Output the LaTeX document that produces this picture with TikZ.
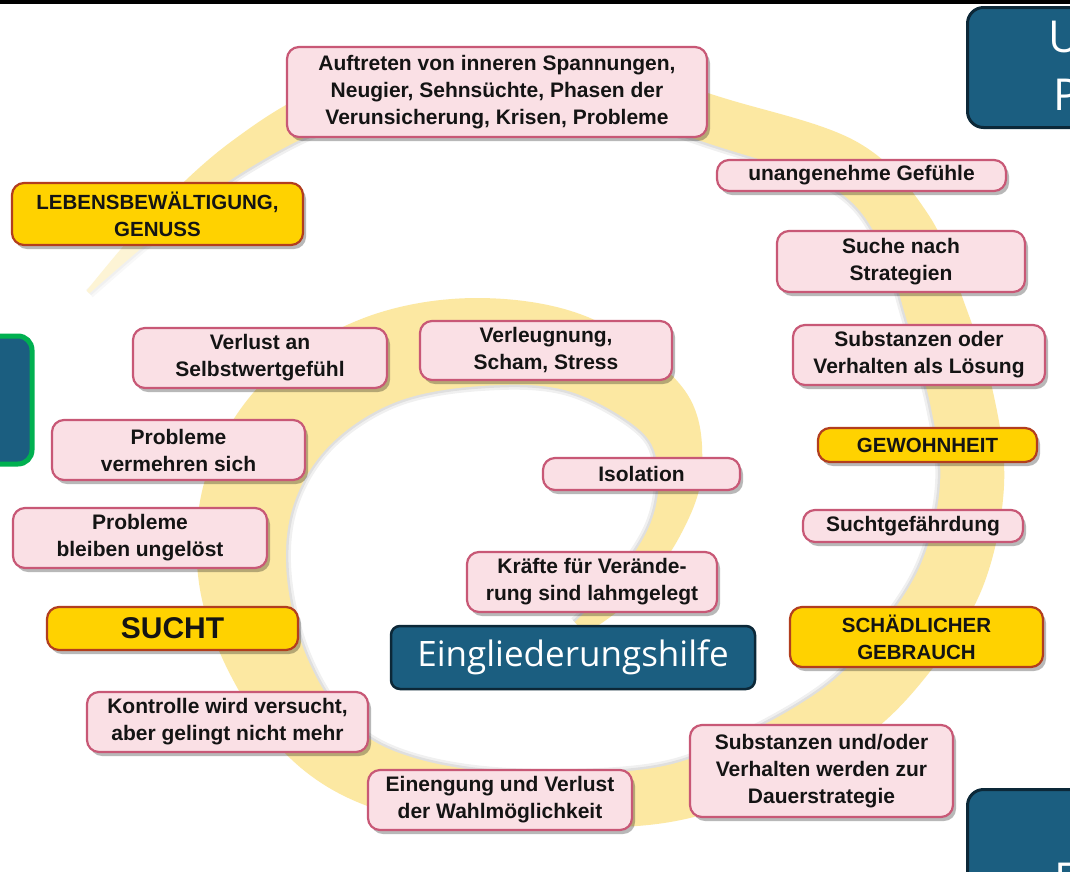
\documentclass[tikz,border=0pt]{standalone}
\usepackage{fontspec}
\setmainfont{Liberation Sans}
\newfontfamily\blfont{Open Sans}
\usetikzlibrary{calc,shadows}
\definecolor{pinkfill}{RGB}{250,224,229}
\definecolor{pinkedge}{RGB}{200,88,118}
\definecolor{yelfill}{RGB}{255,210,0}
\definecolor{yeledge}{RGB}{178,62,30}
\definecolor{bandc}{RGB}{252,232,162}
\definecolor{bluefill}{RGB}{27,94,128}
\definecolor{blueedge}{RGB}{12,40,56}
\definecolor{greenedge}{RGB}{0,176,80}
\definecolor{textc}{RGB}{20,20,20}
\tikzset{
  boxbase/.style={rounded corners=12pt, align=center, inner sep=0pt, line width=2.2pt,
    drop shadow={shadow xshift=3pt, shadow yshift=-4pt, opacity=0.28, fill=black}},
  pinkbox/.style={boxbase, draw=pinkedge, fill=pinkfill, text=textc,
    font=\bfseries\fontsize{21}{27}\selectfont},
  yelbox/.style={boxbase, draw=yeledge, fill=yelfill, text=textc,
    font=\bfseries\fontsize{20.5}{27}\selectfont},
  bluebox/.style={draw=blueedge, fill=bluefill, text=white, line width=2.5pt,
    rounded corners=9pt, font=\blfont\fontsize{35}{40}\selectfont, inner sep=0pt},
  bigblue/.style={draw=blueedge, fill=bluefill, line width=3pt, rounded corners=16pt,
    minimum width=200pt, minimum height=120pt, anchor=north west, inner sep=0pt},
  bigletter/.style={font=\blfont\fontsize{44}{50}\selectfont, text=white, anchor=base west, inner sep=0pt},
  sz/.style 2 args={minimum width=#1pt, minimum height=#2pt},
}
\begin{document}
\begin{tikzpicture}[x=1pt,y=-1pt]
\useasboundingbox (0,0) rectangle (1070,871);
\clip (0,0) rectangle (1070,871);
\fill[white] (0,0) rectangle (1070,871);

% spiral centre line with half widths
\foreach \i/\x/\y/\w in {0/88/292/2, 1/160/220/10, 2/240/155/16, 3/330/106/20,
  4/450/78/22, 5/600/88/23, 6/720/122/24, 7/845/165/26, 8/905/230/28,
  9/935/310/30, 10/962/400/32, 11/972/485/32, 12/952/575/33, 13/905/650/33,
  14/845/712/32, 15/750/765/30, 16/655/796/28, 17/510/800/27, 18/400/785/30,
  19/325/745/33, 20/272/672/38, 21/243/580/44, 22/250/490/46, 23/298/412/46,
  24/380/360/45, 25/480/342/44, 26/580/355/38, 27/662/410/30, 28/680/470/22,
  29/665/530/16, 30/625/588/13, 31/580/628/8}{
  \coordinate (c\i) at (\x,\y);
  \expandafter\xdef\csname bw\i\endcsname{\w}
}
\foreach \i in {0,...,31}{
  \pgfmathtruncatemacro\ipx{max(\i-1,0)}
  \pgfmathtruncatemacro\inx{min(\i+1,31)}
  \edef\ww{\csname bw\i\endcsname}
  \coordinate (ta) at ($(c\ipx)!\ww pt!90:(c\inx)$);
  \coordinate (tb) at ($(c\ipx)!\ww pt!-90:(c\inx)$);
  \coordinate (o\i) at ($(c\i)+(ta)-(c\ipx)$);
  \coordinate (i\i) at ($(c\i)+(tb)-(c\ipx)$);
}
% soft shadow on the inner edge
\draw[black, opacity=0.06, line width=10pt] plot[smooth, tension=0.6] coordinates {(i0) (i1) (i2) (i3) (i4) (i5) (i6) (i7) (i8) (i9) (i10) (i11) (i12) (i13) (i14) (i15) (i16) (i17) (i18) (i19) (i20) (i21) (i22) (i23) (i24) (i25) (i26) (i27) (i28) (i29) (i30) (i31)};
\draw[black, opacity=0.07, line width=5pt] plot[smooth, tension=0.6] coordinates {(i0) (i1) (i2) (i3) (i4) (i5) (i6) (i7) (i8) (i9) (i10) (i11) (i12) (i13) (i14) (i15) (i16) (i17) (i18) (i19) (i20) (i21) (i22) (i23) (i24) (i25) (i26) (i27) (i28) (i29) (i30) (i31)};
% the band
\fill[bandc] plot[smooth, tension=0.6] coordinates {(o0) (o1) (o2) (o3) (o4) (o5) (o6) (o7) (o8) (o9) (o10) (o11) (o12) (o13) (o14) (o15) (o16) (o17) (o18) (o19) (o20) (o21) (o22) (o23) (o24) (o25) (o26) (o27) (o28) (o29) (o30) (o31)}
  -- plot[smooth, tension=0.6] coordinates {(i31) (i30) (i29) (i28) (i27) (i26) (i25) (i24) (i23) (i22) (i21) (i20) (i19) (i18) (i17) (i16) (i15) (i14) (i13) (i12) (i11) (i10) (i9) (i8) (i7) (i6) (i5) (i4) (i3) (i2) (i1) (i0)} -- cycle;
% faded tail
\fill[white, opacity=0.55] (60,246) rectangle (175,320);

% black top edge
\fill[black] (0,0) rectangle (1070,4);

% blue boxes at the edges
\node[bigblue] (ubox) at (966,6) {};
\node[bigletter] (ulet) at (1048,52) {U};
\node[bigletter] (plet) at (1053,110) {P};
\node[bigblue] (ebox) at (966,788) {};
\node[bigletter] (elet) at (1054,894) {E};
\draw[greenedge, fill=bluefill, line width=5pt, rounded corners=14pt] (-40,336) rectangle (32,464);

% boxes
\node[pinkbox, sz={420}{90}] (auf) at (497,92) {Auftreten von inneren Spannungen,\\Neugier, Sehnsüchte, Phasen der\\Verunsicherung, Krisen, Probleme};
\node[pinkbox, sz={289}{31}] (unang) at (861.5,175.5) {unangenehme Gefühle};
\node[pinkbox, sz={248}{61}] (suche) at (901,261.5) {Suche nach\\Strategien};
\node[pinkbox, sz={252}{60}] (subst) at (919,355) {Substanzen oder\\Verhalten als Lösung};
\node[yelbox, sz={219}{34}] (gewohn) at (927.5,445) {GEWOHNHEIT};
\node[pinkbox, sz={220}{32}] (suchtg) at (913,526) {Suchtgefährdung};
\node[yelbox, sz={253}{60}] (schaed) at (916.5,637) {SCHÄDLICHER\\GEBRAUCH};
\node[pinkbox, sz={263}{92}] (dauer) at (821.5,771) {Substanzen und/oder\\Verhalten werden zur\\Dauerstrategie};
\node[pinkbox, sz={264}{60}] (eineng) at (500,800) {Einengung und Verlust\\der Wahlmöglichkeit};
\node[pinkbox, sz={281}{60}] (kontr) at (227.5,722) {Kontrolle wird versucht,\\aber gelingt nicht mehr};
\node[yelbox, sz={251}{43}, font=\bfseries\fontsize{30}{34}\selectfont] (sucht) at (172.5,628.5) {SUCHT};
\node[pinkbox, sz={254}{60}] (ungel) at (140,538) {Probleme\\bleiben ungelöst};
\node[pinkbox, sz={253}{60}] (vermehr) at (178.5,450) {Probleme\\vermehren sich};
\node[pinkbox, sz={254}{60}] (verlust) at (260,358) {Verlust an\\Selbstwertgefühl};
\node[yelbox, sz={291}{62}] (lebens) at (157.5,214) {LEBENSBEWÄLTIGUNG,\\GENUSS};
\node[pinkbox, sz={252}{59}] (verleug) at (546,350.5) {Verleugnung,\\Scham, Stress};
\node[pinkbox, sz={197}{32}] (isol) at (641.5,474) {Isolation};
\node[pinkbox, sz={250}{60}] (kraefte) at (592,582) {Kräfte für Verände-\\rung sind lahmgelegt};
\node[bluebox, sz={364}{63}] (eingl) at (573,657.5) {Eingliederungshilfe};
\end{tikzpicture}
\end{document}
